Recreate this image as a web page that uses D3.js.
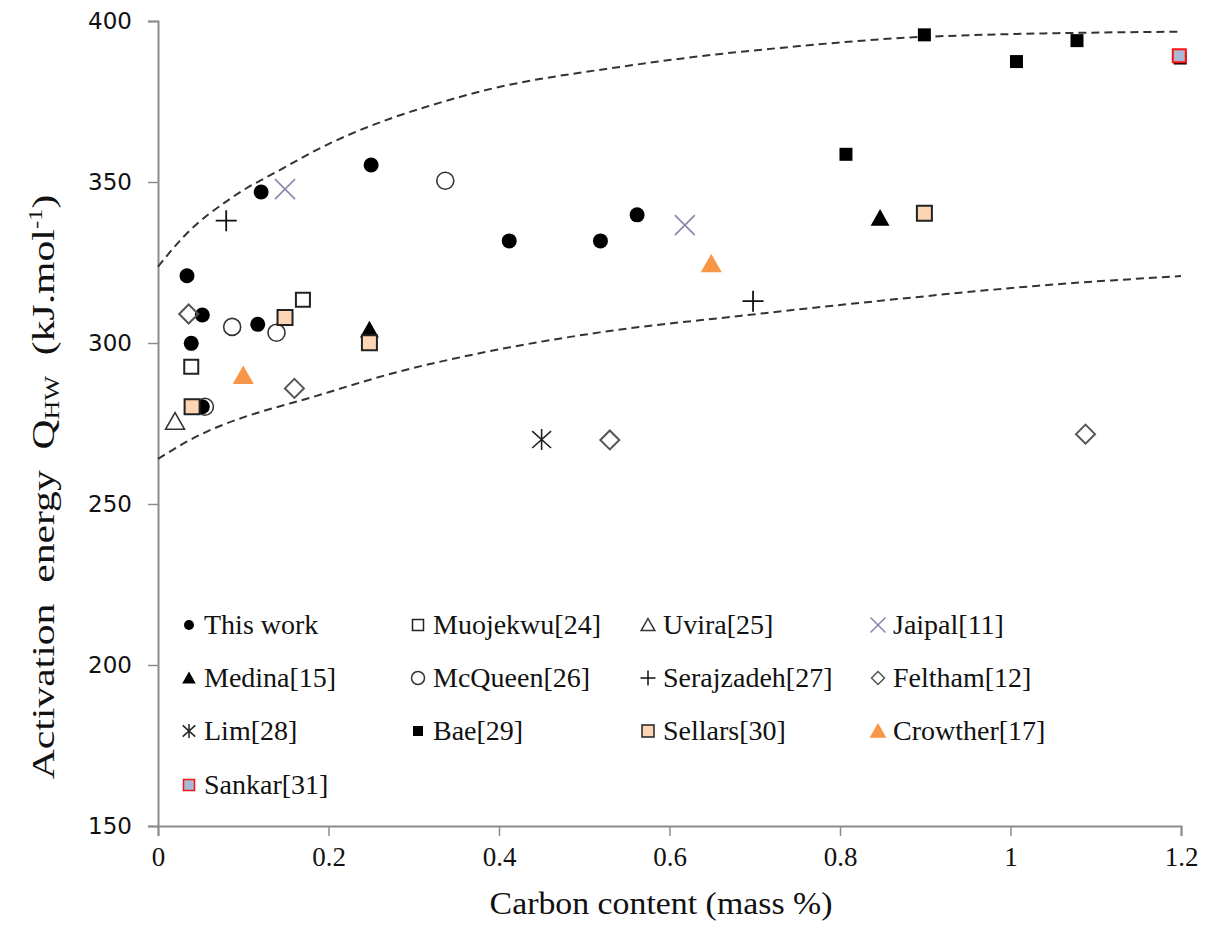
<!DOCTYPE html>
<html>
<head>
<meta charset="utf-8">
<script src="https://cdn.jsdelivr.net/npm/d3@7"></script>
<style>
  body { margin: 0; background: #fff; }
  svg { display: block; }
</style>
</head>
<body>
<svg width="1209" height="926"></svg>
<script>
// DATA (carbon mass %, activation energy kJ/mol)
const thisWork   = [[0.034, 320.9], [0.052, 308.7], [0.039, 299.9], [0.052, 280.2], [0.117, 305.8],
                    [0.121, 346.9], [0.250, 355.3], [0.412, 331.7], [0.519, 331.7], [0.562, 339.8]];
const muojekwu   = [[0.039, 292.6], [0.170, 313.4]];
const uvira      = [[0.020, 275.6]];
const jaipal     = [[0.149, 347.8], [0.618, 336.6]];
const medina     = [[0.248, 304.1], [0.847, 338.8]];
const mcqueen    = [[0.055, 280.2], [0.087, 305.0], [0.139, 303.2], [0.337, 350.4]];
const serajzadeh = [[0.080, 338.0], [0.698, 313.0]];
const feltham    = [[0.036, 309.0], [0.160, 285.9], [0.530, 269.9], [1.088, 271.7]];
const lim        = [[0.450, 270.0]];
const bae        = [[0.807, 358.6], [0.899, 395.7], [1.007, 387.4], [1.078, 393.9], [1.199, 388.5]];
const sellars    = [[0.040, 280.2], [0.149, 307.9], [0.248, 300.1], [0.899, 340.3]];
const crowther   = [[0.100, 289.9], [0.649, 324.6]];
const sankar     = [[1.198, 389.2]];

// dashed bounding curves
const upperBound = [[0, 323.7], [0.03, 333.0], [0.088, 345.4], [0.147, 354.3], [0.182, 359.4], [0.362, 377.0],
                    [0.557, 386.3], [0.752, 392.2], [0.9, 395.1], [1.2, 396.7]];
const lowerBound = [[0, 264.0], [0.03, 268.8], [0.2, 284.7], [0.284, 291.2], [0.377, 296.8], [0.518, 303.3],
                    [0.682, 308.4], [0.858, 313.4], [1.033, 317.8], [1.2, 320.8]];

const xTicks = [0, 0.2, 0.4, 0.6, 0.8, 1, 1.2];
const yTicks = [150, 200, 250, 300, 350, 400];

const series = [
    { name: 'This work',       data: thisWork,   shape: 'circle',   size: 15, fill: '#000',    stroke: 'none',    sw: 0,   ls: 10 },
    { name: 'Muojekwu[24]',    data: muojekwu,   shape: 'square',   size: 14, fill: '#fff',    stroke: '#222',    sw: 2,   ls: 11 },
    { name: 'Uvira[25]',       data: uvira,      shape: 'triangle', size: 18, fill: 'none',    stroke: '#333',    sw: 1.6, ls: 13 },
    { name: 'Jaipal[11]',      data: jaipal,     shape: 'x',        size: 20, fill: 'none',    stroke: '#8d84ad', sw: 1.6, ls: 15 },
    { name: 'Medina[15]',      data: medina,     shape: 'triangle', size: 18, fill: '#000',    stroke: 'none',    sw: 0,   ls: 13 },
    { name: 'McQueen[26]',     data: mcqueen,    shape: 'circle',   size: 17, fill: 'none',    stroke: '#333',    sw: 1.6, ls: 13 },
    { name: 'Serajzadeh[27]',  data: serajzadeh, shape: 'plus',     size: 21, fill: 'none',    stroke: '#111',    sw: 1.8, ls: 15 },
    { name: 'Feltham[12]',     data: feltham,    shape: 'diamond',  size: 19, fill: 'none',    stroke: '#555',    sw: 2,   ls: 13 },
    { name: 'Lim[28]',         data: lim,        shape: 'star',     size: 21, fill: 'none',    stroke: '#222',    sw: 1.6, ls: 14 },
    { name: 'Bae[29]',         data: bae,        shape: 'square',   size: 13, fill: '#000',    stroke: 'none',    sw: 0,   ls: 10 },
    { name: 'Sellars[30]',     data: sellars,    shape: 'square',   size: 15, fill: '#fcd5b4', stroke: '#222',    sw: 2,   ls: 12 },
    { name: 'Crowther[17]',    data: crowther,   shape: 'triangle', size: 20, fill: '#f79646', stroke: 'none',    sw: 0,   ls: 16 },
    { name: 'Sankar[31]',      data: sankar,     shape: 'square',   size: 13, fill: '#a9b8d6', stroke: '#ff1010', sw: 2,   ls: 11 },
];

const svg = d3.select('svg');
const width = +svg.attr('width');
const height = +svg.attr('height');
const margin = { top: 21, right: 28, bottom: 100, left: 158 };
const innerWidth = width - margin.left - margin.right;
const innerHeight = height - margin.top - margin.bottom;
const serif = '"Liberation Serif", "Times New Roman", serif';

const xScale = d3.scaleLinear().domain([0, 1.2]).range([0, innerWidth]);
const yScale = d3.scaleLinear().domain([150, 400]).range([innerHeight, 0]);

const markerPath = (shape, s) => {
    const h = s / 2;
    switch (shape) {
        case 'circle':   return d3.symbol(d3.symbolCircle, Math.PI * h * h)();
        case 'square':   return `M${-h},${-h}H${h}V${h}H${-h}Z`;
        case 'triangle': return `M0,${-h}L${h * 1.05},${h * 0.85}H${-h * 1.05}Z`;
        case 'diamond':  return `M0,${-h}L${h},0L0,${h}L${-h},0Z`;
        case 'x':        return `M${-h},${-h}L${h},${h}M${h},${-h}L${-h},${h}`;
        case 'plus':     return `M${-h},0H${h}M0,${-h}V${h}`;
        case 'star':     return `M${-h * 0.9},${-h * 0.8}L${h * 0.9},${h * 0.8}M${h * 0.9},${-h * 0.8}L${-h * 0.9},${h * 0.8}M0,${-h}V${h}`;
    }
};

const g = svg.append('g').attr('transform', `translate(${margin.left},${margin.top})`);

// AXES
const axisColor = '#8c8c8c';
const yAxis = d3.axisLeft(yScale).tickValues(yTicks).tickSize(10).tickPadding(16).tickFormat(d3.format('d'));
const xAxis = d3.axisBottom(xScale).tickValues(xTicks).tickSize(10).tickPadding(11).tickFormat(d => String(d));

const yG = g.append('g').call(yAxis);
yG.select('.domain').attr('stroke', axisColor).attr('stroke-width', 2);
yG.selectAll('.tick line').attr('stroke', axisColor).attr('stroke-width', 1.5);
yG.selectAll('.tick text')
    .attr('font-family', '"DejaVu Sans", Verdana, sans-serif')
    .attr('font-size', 23)
    .attr('fill', '#111');

const xG = g.append('g').attr('transform', `translate(0,${innerHeight})`).call(xAxis);
xG.select('.domain').attr('stroke', axisColor).attr('stroke-width', 2);
xG.selectAll('.tick line').attr('stroke', axisColor).attr('stroke-width', 1.5);
xG.selectAll('.tick text')
    .attr('font-family', serif)
    .attr('font-size', 27)
    .attr('fill', '#111');

// BOUNDING CURVES
const line = d3.line()
    .x(d => xScale(d[0]))
    .y(d => yScale(d[1]))
    .curve(d3.curveMonotoneX);

[upperBound, lowerBound].forEach(b => {
    g.append('path')
        .attr('d', line(b))
        .attr('fill', 'none')
        .attr('stroke', '#333')
        .attr('stroke-width', 2)
        .attr('stroke-dasharray', '8,5');
});

// POINTS
series.forEach(s => {
    g.append('g').selectAll('path')
        .data(s.data)
        .enter()
        .append('path')
            .attr('transform', d => `translate(${xScale(d[0])},${yScale(d[1])})`)
            .attr('d', markerPath(s.shape, s.size))
            .attr('fill', s.fill)
            .attr('stroke', s.stroke)
            .attr('stroke-width', s.sw);
});

// LEGEND
const legendCols = [189, 418, 648, 878];
const legendRows = [625, 678, 731, 785];
const legend = svg.append('g');
series.forEach((s, i) => {
    const lx = legendCols[i % 4];
    const ly = legendRows[Math.floor(i / 4)];
    legend.append('path')
        .attr('transform', `translate(${lx},${ly})`)
        .attr('d', markerPath(s.shape, s.ls))
        .attr('fill', s.fill)
        .attr('stroke', s.stroke)
        .attr('stroke-width', Math.min(s.sw, 1.5));
    legend.append('text')
        .attr('x', lx + 15)
        .attr('y', ly + 9)
        .attr('font-family', serif)
        .attr('font-size', 28)
        .attr('fill', '#111')
        .text(s.name);
});

// AXIS TITLES
const fitText = (sel, target, base) => {
    const w = sel.node().getBBox().width;
    sel.attr('transform', `${base} scale(${target / w},1)`);
};

const xTitle = svg.append('text')
    .attr('text-anchor', 'middle')
    .attr('font-family', serif)
    .attr('font-size', 31)
    .attr('fill', '#111')
    .text('Carbon content (mass %)');
fitText(xTitle, 343, 'translate(661,914)');

const yTitle = svg.append('text')
    .attr('text-anchor', 'middle')
    .attr('font-family', serif)
    .attr('font-size', 32)
    .attr('fill', '#111')
    .attr('xml:space', 'preserve');
yTitle.append('tspan').text('Activation  energy  Q');
yTitle.append('tspan').attr('font-size', 20).attr('dy', 5).text('HW');
yTitle.append('tspan').attr('dy', -5).text('  (kJ.mol');
yTitle.append('tspan').attr('font-size', 19).attr('dy', -12).text('-1');
yTitle.append('tspan').attr('dy', 12).text(')');
fitText(yTitle, 585, 'translate(54,487) rotate(-90)');
</script>
</body>
</html>
